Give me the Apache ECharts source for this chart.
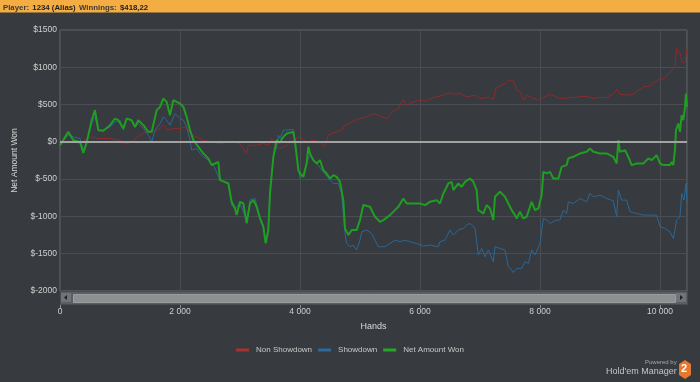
<!DOCTYPE html>
<html>
<head>
<meta charset="utf-8">
<script src="https://cdn.jsdelivr.net/npm/echarts@6/dist/echarts.min.js"></script>
<style>
html,body{margin:0;padding:0;background:#373a3e;}
#chart{width:700px;height:382px;}
</style>
</head>
<body>
<div id="chart"></div>
<script>
// ---- Data (hands, net amount in $) ----
const seriesNames = ['Non Showdown', 'Showdown', 'Net Amount Won'];
const headerPlayer = '1234 (Alias)';
const headerWinnings = '$418,22';

const nonShowdown = [
[0,-21],[167,0],[333,-21],[500,67],[667,45],[833,45],[1000,20],[1111,-31],[1222,20],[1333,90],[1444,134],[1556,134],[1667,180],[1722,224],[1806,157],[1889,180],[2000,180],[2083,201],[2139,157],[2194,90],[2278,67],[2389,20],[2500,0],[2667,-21],[2778,-10],[2889,0],[3000,-21],[3111,-155],[3139,-45],[3278,-45],[3389,-21],[3472,-45],[3528,45],[3583,-45],[3667,-89],[3778,-45],[3889,20],[4000,67],[4111,0],[4222,20],[4333,0],[4417,-67],[4472,90],[4528,112],[4611,134],[4694,157],[4750,224],[4833,246],[4917,291],[5000,313],[5111,335],[5222,380],[5333,344],
[5444,313],[5528,402],[5639,447],[5722,568],[5778,492],[5889,536],[6000,559],[6111,545],[6222,595],[6333,612],[6472,657],[6556,639],[6667,648],[6778,603],[6917,626],[7000,581],[7139,595],[7222,568],[7267,716],[7361,760],[7417,782],[7472,827],[7556,827],[7611,693],[7667,670],[7722,559],[7778,626],[7861,595],[7972,559],[8056,595],[8167,639],[8278,595],[8389,581],[8528,595],[8667,603],[8778,612],[8889,581],[9000,595],[9111,595],[9222,648],[9289,702],[9333,639],[9444,626],[9556,639],[9639,693],[9722,737],[9833,746],[9917,804],[10000,849],[10056,836],[10167,938],[10250,1005],[10278,1251],[10333,1184],[10378,1059],[10417,1073],[10450,1251]
];

const showdown = [
[0,-31],[139,90],[222,67],[333,45],[389,-111],[444,0],[528,246],[583,335],[639,157],[722,157],[833,201],[917,268],[1000,291],[1056,157],[1111,313],[1194,291],[1250,201],[1306,246],[1389,180],[1472,90],[1528,0],[1583,157],[1667,246],[1722,335],[1778,291],[1833,224],[1917,380],[2000,313],[2056,291],[2111,201],[2167,20],[2194,-111],[2278,-89],[2333,-155],
[2389,-200],[2472,-245],[2556,-312],[2667,-513],[2806,-558],[2861,-848],[2917,-893],[3000,-826],[3111,-1049],[3167,-781],[3250,-760],[3333,-1005],[3389,-1116],[3428,-1340],[3472,-1161],[3500,-647],[3556,-200],[3611,-67],[3639,90],[3667,45],[3722,157],[3778,157],[3889,166],[3917,23],
[3972,-357],[4000,-491],[4056,-447],[4111,-268],[4167,-178],[4222,-245],[4278,-290],[4389,-402],[4500,-513],[4556,-558],[4639,-558],[4694,-692],[4750,-1228],[4778,-1362],[4833,-1407],[4889,-1385],[4944,-1451],[5000,-1317],[5028,-1206],[5111,-1183],[5194,-1228],[5250,-1317],[5306,-1407],[5333,-1429],
[5417,-1407],[5500,-1362],[5583,-1317],[5667,-1340],[5750,-1317],[5833,-1340],[5944,-1362],[6056,-1398],[6167,-1385],[6306,-1407],[6333,-1340],[6417,-1317],[6500,-1183],[6556,-1250],[6639,-1183],[6722,-1161],[6778,-1116],[6833,-1094],[6917,-1161],[6972,-1518],[7028,-1429],[7083,-1541],[7139,-1451],[7222,-1608],[7250,-1407],[7333,-1429],[7417,-1451],[7472,-1675],[7528,-1720],[7556,-1755],[7611,-1697],[7694,-1697],[7750,-1608],[7806,-1630],[7861,-1451],[7917,-1518],[8000,-1362],[8056,-1027],[8111,-1049],[8167,-1094],[8278,-1049],[8333,-1049],[8389,-915],[8444,-960],[8472,-804],[8556,-826],[8667,-759],[8778,-804],[8833,-692],[8889,-737],[9000,-714],[9111,-759],[9222,-790],[9278,-1005],[9306,-647],[9361,-781],[9444,-781],[9500,-938],[9611,-960],[9722,-982],[9833,-982],[9944,-982],[10000,-1139],[10083,-1161],[10167,-1206],[10222,-1295],[10250,-1183],[10278,-1049],[10333,-1005],[10361,-692],[10400,-781],[10433,-558],[10450,-804]
];

const netWon = [
[0,-45],[139,134],[222,23],[333,0],[389,-150],[444,-10],[528,290],[583,425],[639,157],[722,150],[833,224],[917,313],[972,290],[1056,180],[1111,313],[1194,290],[1250,200],[1306,290],[1389,224],[1472,134],[1528,134],[1611,425],[1667,469],[1722,580],[1778,536],[1833,358],[1889,559],[1944,536],[2000,514],[2056,469],[2111,335],[2167,157],[2222,23],[2306,-67],[2389,-155],[2472,-222],[2528,-312],[2583,-290],[2639,-270],[2667,-513],[2722,-530],[2806,-558],[2861,-804],[2917,-893],[2944,-982],[3000,-804],[3056,-826],[3111,-1094],[3167,-826],[3222,-781],[3278,-870],[3333,-1027],[3389,-1139],[3428,-1362],[3472,-1183],[3500,-692],[3556,-200],[3611,23],[3667,-10],[3722,67],[3778,112],[3889,134],[3917,0],[3972,-379],[4000,-424],[4056,-469],[4111,-290],[4139,-67],[4167,-155],[4222,-245],[4278,-290],[4333,-245],[4389,-379],[4444,-424],[4500,-491],[4556,-447],[4611,-469],[4667,-536],[4722,-781],[4750,-1161],[4806,-1250],[4861,-1183],[4944,-1183],[5000,-1049],[5056,-848],[5167,-870],[5250,-1005],[5333,-1072],
[5389,-1050],[5500,-982],[5583,-915],[5639,-870],[5722,-759],[5778,-826],[5889,-826],[6000,-826],[6083,-848],[6167,-804],[6278,-781],[6333,-826],[6389,-692],[6472,-558],[6528,-536],[6556,-647],[6639,-558],[6694,-603],[6750,-536],[6833,-491],[6889,-536],[6944,-647],[6972,-915],[7000,-938],[7056,-960],[7111,-848],[7167,-893],[7222,-1049],[7250,-737],[7333,-670],[7417,-737],[7472,-826],[7528,-915],[7583,-982],[7611,-1027],[7667,-938],[7722,-1027],[7778,-1005],[7861,-804],[7917,-915],[7972,-893],[8028,-714],[8056,-402],[8111,-424],[8167,-402],[8222,-491],[8306,-491],[8361,-335],[8444,-312],[8472,-222],[8556,-200],[8667,-155],[8778,-133],[8833,-89],[8889,-133],[9000,-155],[9111,-155],[9222,-200],[9278,-290],[9306,23],[9333,-133],[9417,-111],[9472,-200],[9528,-312],[9611,-290],[9722,-290],[9806,-222],[9861,-245],[9944,-178],[10000,-290],[10056,-312],[10167,-312],[10194,-268],[10222,-312],[10250,-100],[10267,157],[10306,246],[10333,134],[10361,358],[10389,290],[10417,469],[10433,648],[10450,469]
];

const xMin = 0, xMax = 10450, xStep = 2000;
const yMin = -2000, yMax = 1500, yStep = 500;
const seriesColors = ['#8e2a2c', '#2b6796', '#1f9e22'];

// ---- Chart ----
const chart = echarts.init(document.getElementById('chart'), null, {renderer: 'canvas'});
const FONT = '"Liberation Sans", Arial, sans-serif';
const fmtX = v => String(v).replace(/\B(?=(\d{3})+(?!\d))/g, ' ');

const option = {
  backgroundColor: '#373a3e',
  animation: false,
  textStyle: {fontFamily: FONT},
  grid: {left: 60, right: 13, top: 30, bottom: 91, show: true, borderColor: '#696c70', borderWidth: 1},
  legend: {
    top: 341, left: 'center', icon: 'rect', itemWidth: 13, itemHeight: 3, itemGap: 6,
    textStyle: {color: '#c8c8c8', fontSize: 8, fontFamily: FONT, padding: [0, 0, 0, 2]},
    data: seriesNames
  },
  xAxis: {
    type: 'value', min: xMin, max: xMax, interval: xStep,
    name: 'Hands', nameLocation: 'middle', nameGap: 31,
    nameTextStyle: {color: '#d8d8d8', fontSize: 9},
    axisLine: {show: false, onZero: false},
    axisTick: {show: true, length: 17, lineStyle: {color: '#8a8c8f'}},
    axisLabel: {color: '#d0d0d0', fontSize: 8.5, margin: 16, showMaxLabel: false, formatter: fmtX},
    splitLine: {show: true, lineStyle: {color: '#4a4d51', width: 1}}
  },
  yAxis: {
    type: 'value', min: yMin, max: yMax, interval: yStep,
    name: 'Net Amount Won', nameLocation: 'middle', nameGap: 40, nameRotate: 90,
    nameTextStyle: {color: '#d8d8d8', fontSize: 8.5},
    axisLine: {show: false, onZero: false}, axisTick: {show: false},
    axisLabel: {color: '#d0d0d0', fontSize: 8.5, margin: 3, formatter: v => '$' + v},
    splitLine: {show: true, lineStyle: {color: '#4a4d51', width: 1}}
  },
  series: [
    {
      name: seriesNames[0], type: 'line', data: nonShowdown, showSymbol: false,
      lineStyle: {color: seriesColors[0], width: 1}, itemStyle: {color: '#a83232'},
      markLine: {
        silent: true, symbol: 'none', label: {show: false},
        lineStyle: {color: '#a3a3a3', width: 2, type: 'solid'},
        data: [{yAxis: 0}]
      }
    },
    {
      name: seriesNames[1], type: 'line', data: showdown, showSymbol: false,
      lineStyle: {color: seriesColors[1], width: 1}, itemStyle: {color: '#2b6a9e'}
    },
    {
      name: seriesNames[2], type: 'line', data: netWon, showSymbol: false,
      lineStyle: {color: seriesColors[2], width: 2}, itemStyle: {color: '#22a825'}
    }
  ],
  graphic: [
    // header bar
    {type: 'rect', left: 0, top: 0, shape: {width: 700, height: 12.5}, style: {fill: '#f4ad43'}, z: 10},
    {type: 'text', left: 3, top: 2, z: 11, style: {
      text: '{n|Player:} {b|' + headerPlayer + '} {n|Winnings:} {b|' + headerWinnings + '}',
      rich: {
        n: {fontSize: 7.8, fontFamily: FONT, fontWeight: 'bold', fill: '#3a3a3a'},
        b: {fontSize: 7.8, fontFamily: FONT, fontWeight: 'bold', fill: '#1e1e1e'}
      }
    }},
    // scrollbar under plot
    {type: 'rect', left: 60, top: 291, shape: {width: 627, height: 13}, style: {fill: '#5b5e62', stroke: '#4a4d50', lineWidth: 1}, z: 5},
    {type: 'rect', left: 61, top: 293, shape: {width: 10, height: 9}, style: {fill: '#707377'}, z: 6},
    {type: 'rect', left: 676, top: 293, shape: {width: 10, height: 9}, style: {fill: '#707377'}, z: 6},
    {type: 'polygon', shape: {points: [[67, 295], [67, 300], [64, 297.5]]}, style: {fill: '#222'}, z: 7},
    {type: 'polygon', shape: {points: [[680, 295], [680, 300], [683, 297.5]]}, style: {fill: '#222'}, z: 7},
    {type: 'rect', left: 73, top: 294, shape: {width: 602, height: 8}, style: {fill: '#8d8f92', stroke: '#9a9c9e', lineWidth: 1}, z: 6},
    // logo
    {type: 'text', left: 645, top: 359, z: 10, style: {text: 'Powered by', fontSize: 6, fontFamily: FONT, fill: '#a8a8a8'}},
    {type: 'text', left: 606, top: 367, z: 10, style: {text: "Hold'em Manager", fontSize: 9, fontFamily: FONT, fill: '#c6c6c6'}},
    {type: 'polygon', z: 10, shape: {points: [[685, 360], [691, 364], [691, 375], [685, 379], [679, 375], [679, 364]]}, style: {fill: '#e5772e'}},
    {type: 'text', left: 681, top: 363, z: 11, style: {text: '2', fontSize: 11, fontWeight: 'bold', fontFamily: FONT, fill: '#fff'}}
  ]
};
chart.setOption(option);
</script>
</body>
</html>
